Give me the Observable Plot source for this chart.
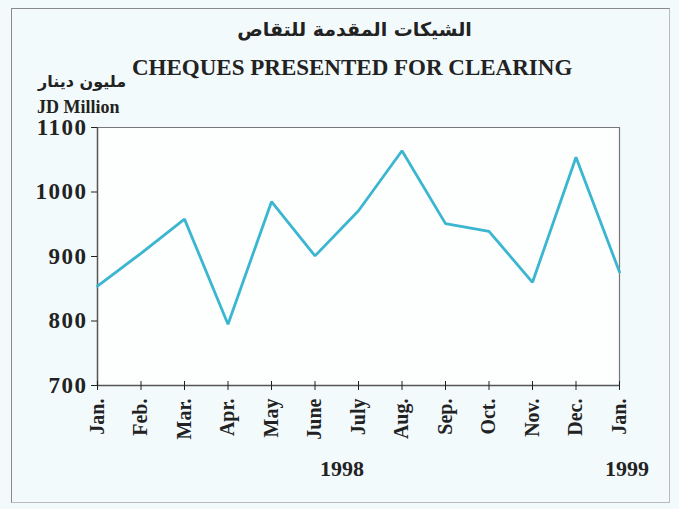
<!DOCTYPE html>
<html><head><meta charset="utf-8">
<script src="https://cdn.jsdelivr.net/npm/d3@7"></script>
<script src="https://cdn.jsdelivr.net/npm/@observablehq/plot@0.6"></script>
<style>
html,body{margin:0;padding:0;background:#fff;}
#wrap{position:relative;width:679px;height:509px;background:#f3fafc;overflow:hidden;}
#border{position:absolute;left:11px;top:8px;width:659px;height:495px;border:1.5px solid #8a8a8a;border-right-color:#bbb;border-bottom-color:#bbb;box-sizing:border-box;}
.t{position:absolute;font-family:"Liberation Serif",serif;font-weight:bold;color:#222;white-space:nowrap;}
#chart{position:absolute;left:0;top:0;}
#chart g[aria-label="y-axis tick label"]{font-size:23px;font-weight:bold;letter-spacing:1.5px;}
#chart g[aria-label="x-axis tick label"]{font-size:20px;font-weight:bold;}
</style></head><body>
<div id="wrap">
<div id="border"></div>
<div id="chart"></div>
<div class="t" id="ar" style="left:15px;width:679px;text-align:center;top:18px;font-family:'DejaVu Sans',sans-serif;font-size:19px;" dir="rtl">الشيكات المقدمة للتقاص</div>
<div class="t" style="left:132px;top:55px;font-size:23px;">CHEQUES PRESENTED FOR CLEARING</div>
<div class="t" style="left:38px;top:72px;font-family:'DejaVu Sans',sans-serif;font-size:16px;" dir="rtl">مليون دينار</div>
<div class="t" style="left:37px;top:97px;font-size:18px;">JD Million</div>
<div class="t" style="left:320px;top:456px;font-size:22px;">1998</div>
<div class="t" style="left:605px;top:456px;font-size:22px;">1999</div>
</div>
<script>
const months = ["Jan.","Feb.","Mar.","Apr.","May","June","July","Aug.","Sep.","Oct.","Nov.","Dec.","Jan."];
const values = [854, 905, 958, 795, 985, 901, 971, 1064, 951, 939, 860, 1054, 876];
const yTicks = [700, 800, 900, 1000, 1100];

const data = values.map((v, i) => ({i, v}));

const chart = Plot.plot({
  width: 679,
  height: 509,
  marginLeft: 97,
  marginRight: 60,
  marginTop: 127,
  marginBottom: 124,
  style: {background: "transparent", fontFamily: "'Liberation Serif', serif", color: "#222"},
  x: {type: "linear", domain: [0, 12]},
  y: {domain: [700, 1100]},
  marks: [
    Plot.frame({fill: "#fdfefe", stroke: "none"}),
    Plot.ruleY([1100], {stroke: "#777", strokeWidth: 1.2}),
    Plot.ruleX([12], {stroke: "#777", strokeWidth: 1.2}),
    Plot.ruleY([700], {stroke: "#555", strokeWidth: 1.5}),
    Plot.ruleX([0], {stroke: "#555", strokeWidth: 1.5}),
    Plot.axisY({ticks: yTicks, tickFormat: d => String(d), tickSize: 6, tickPadding: 4, label: null}),
    Plot.axisX({ticks: d3.range(0, 13), tickFormat: i => months[i], tickRotate: -90, tickSize: 5, tickPadding: 8, label: null}),
    Plot.axisX({ticks: d3.range(0, 13), tickFormat: () => "", tickSize: 4, dy: -4, label: null}),
    Plot.line(data, {x: "i", y: "v", stroke: "#3bb6d0", strokeWidth: 2.8, strokeLinejoin: "miter"})
  ]
});
document.getElementById("chart").appendChild(chart);
</script>
</body></html>
